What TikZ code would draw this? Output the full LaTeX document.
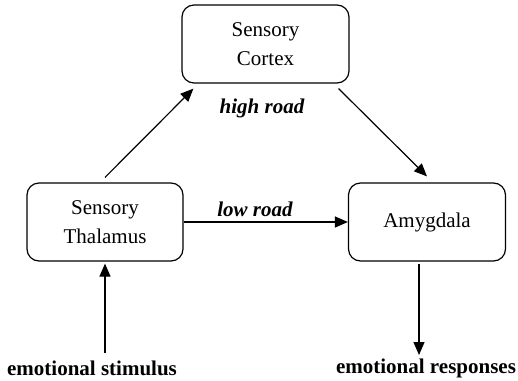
\documentclass[tikz,border=0pt]{standalone}
\usepackage{fontspec}
\setmainfont{Liberation Serif}
\usetikzlibrary{arrows.meta}
\newcommand{\boxfont}{\fontsize{21}{29}\selectfont}
\begin{document}
\begin{tikzpicture}[x=1pt,y=-1pt,
  boxnode/.style={draw,line width=1.2pt,rounded corners=12pt,align=center,inner sep=0pt,font=\boxfont},
  arr/.style={line width=1.2pt,-{Triangle[length=13pt,width=11pt]}},
  lbl/.style={font=\fontsize{21}{24}\selectfont\bfseries},
  road/.style={font=\fontsize{21}{24}\selectfont\bfseries\itshape}]
\useasboundingbox (0,0) rectangle (518,380);
\node[boxnode,minimum width=167pt,minimum height=78pt] (cortex) at (265.5,44) {Sensory\\Cortex};
\node[boxnode,minimum width=156pt,minimum height=78pt] (thal) at (105,222) {Sensory\\Thalamus};
\node[boxnode,minimum width=157pt,minimum height=78pt] (amyg) at (427,222) {Amygdala};
\node[road] (high) at (262,108) {high road};
\node[road] (low) at (255,209) {low road};
\node[lbl] (stim) at (92,368) {emotional stimulus};
\node[lbl] (resp) at (426,368) {emotional responses};
\coordinate (s0) at (105,353);
\coordinate (r1) at (419,355);
\draw[arr] ([yshift=5pt]thal.north) -- ([xshift=12pt,yshift=-5pt]cortex.south west);
\draw[arr] ([xshift=-11pt,yshift=-5pt]cortex.south east) -- ([yshift=6pt]amyg.north);
\draw[arr] (thal.east) -- (amyg.west);
\draw[arr] (s0) -- ([yshift=-2pt]thal.south);
\draw[arr] ([xshift=-8pt,yshift=-2pt]amyg.south) -- (r1);
\end{tikzpicture}
\end{document}
